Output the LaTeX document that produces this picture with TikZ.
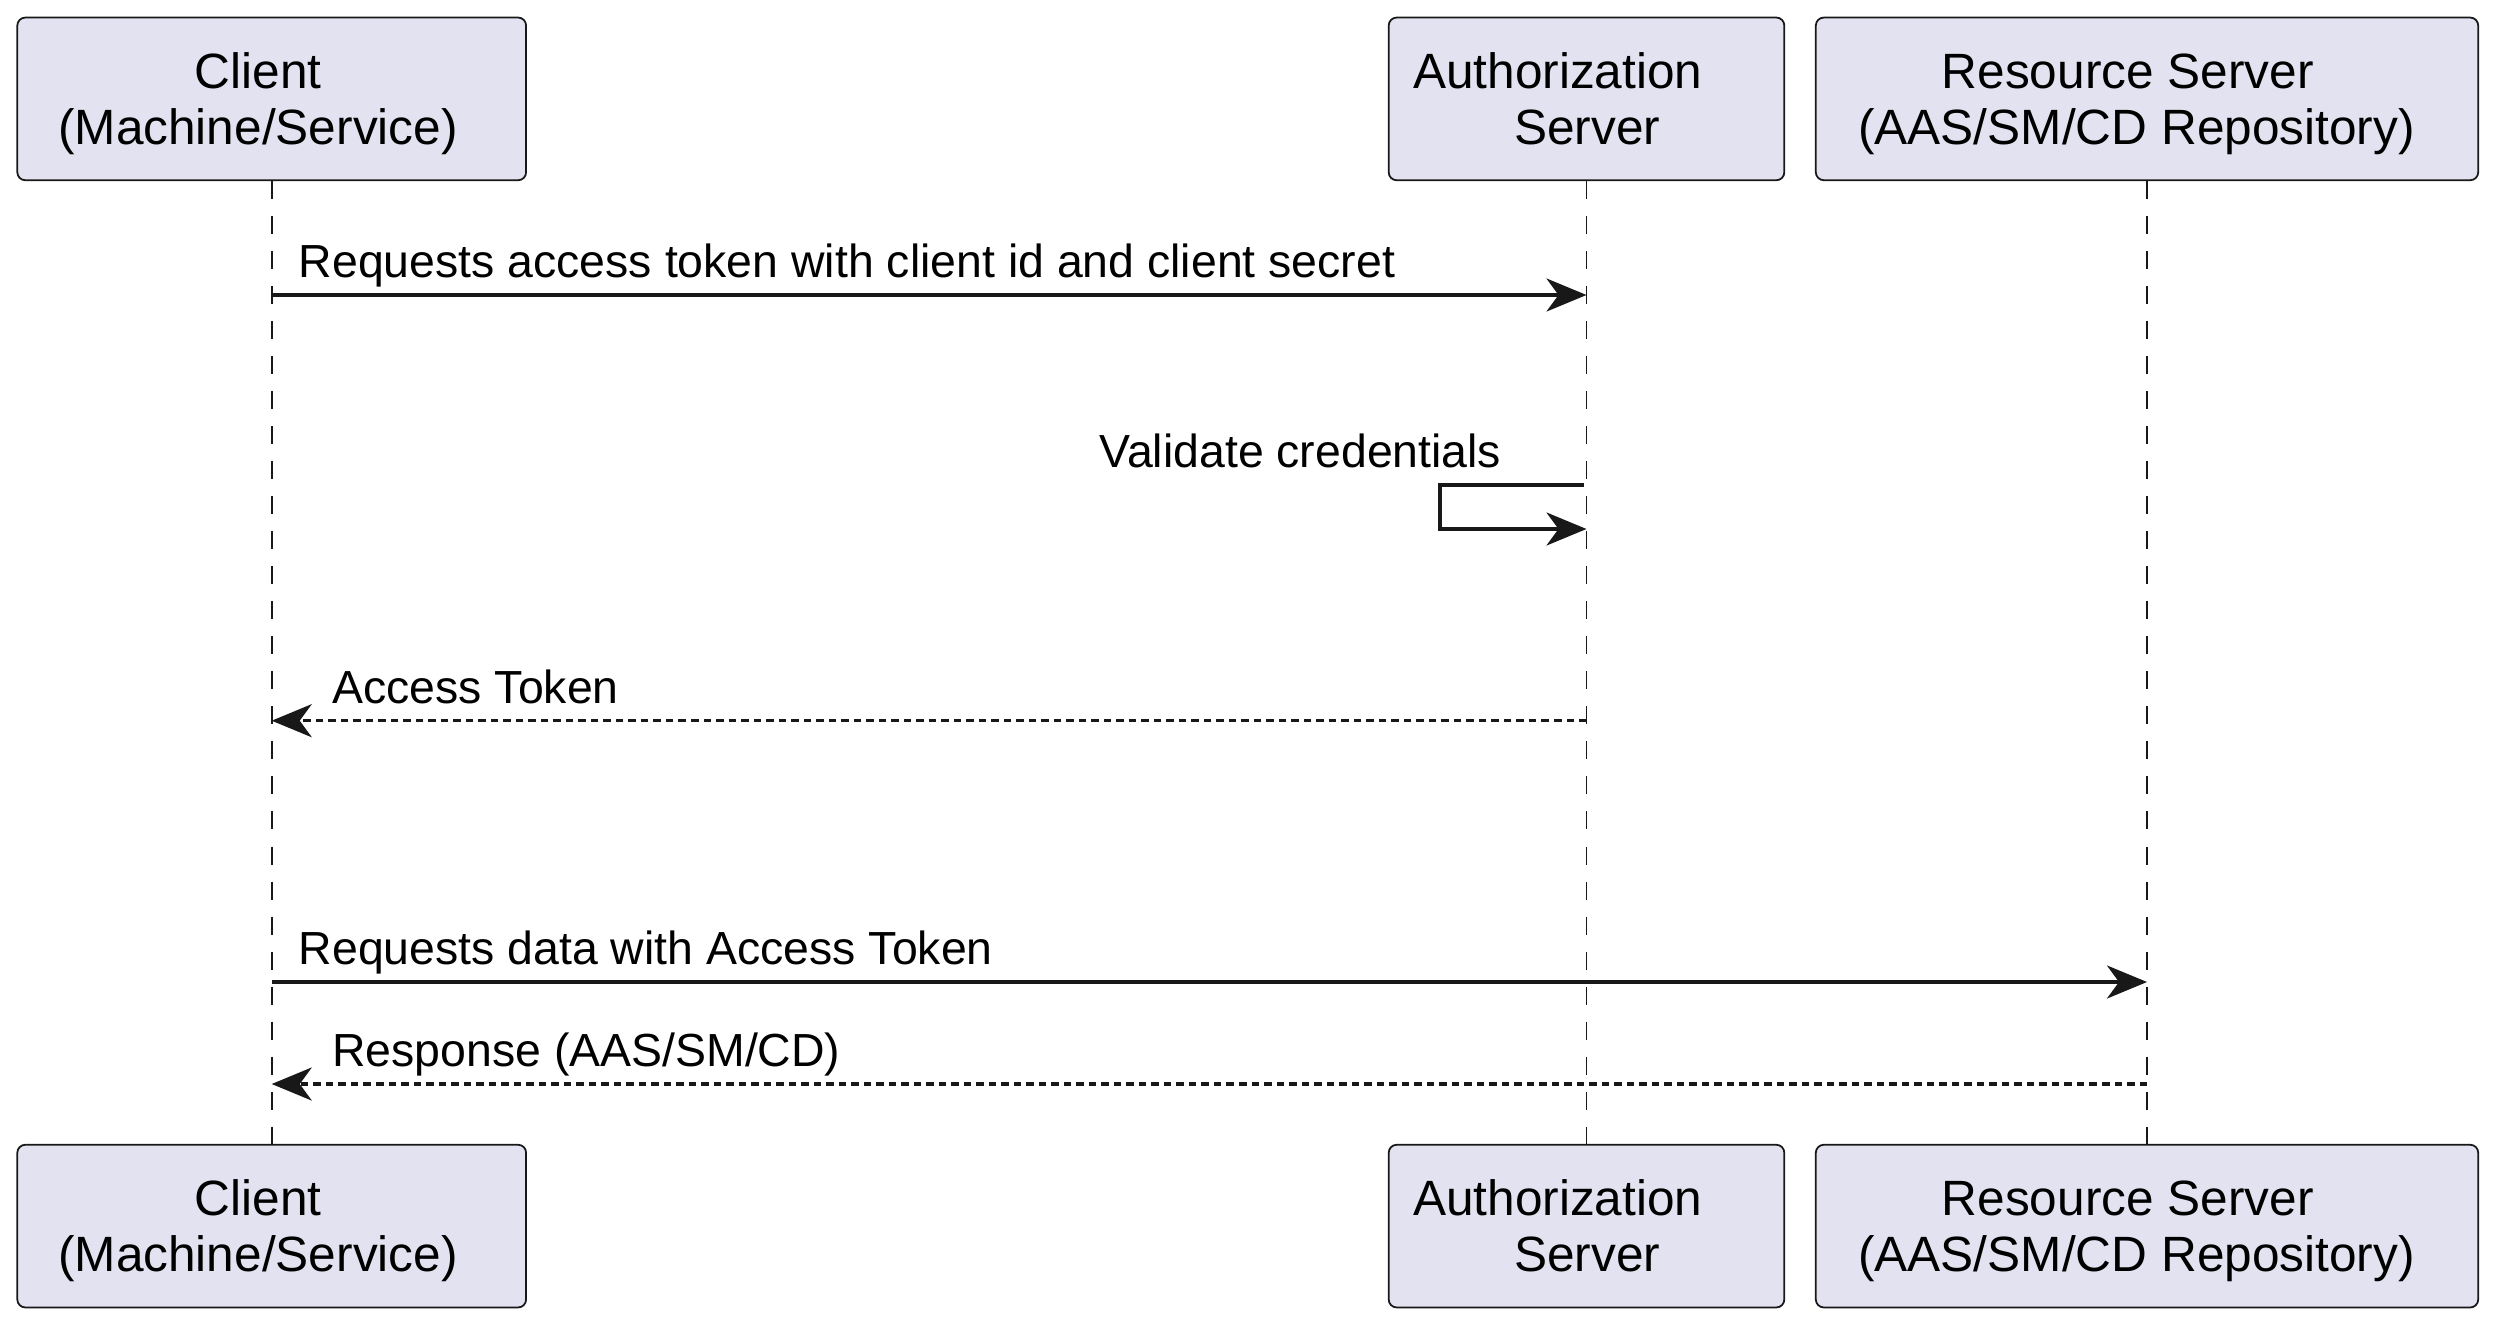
\documentclass[tikz,border=0pt]{standalone}
\usepackage{fontspec}
\setmainfont{Liberation Sans}
\usetikzlibrary{arrows.meta}
\definecolor{boxfill}{HTML}{E2E2F0}
\definecolor{ink}{HTML}{181818}
\begin{document}
\begin{tikzpicture}[x=0.01cm,y=-0.01cm,
  participant/.style={draw=ink, fill=boxfill, line width=0.5pt, rounded corners=0.08cm,
    minimum height=1.626cm, inner sep=0pt},
  boxtext/.style={anchor=base, font=\fontsize{14.1}{17}\selectfont, text=black, inner sep=0pt},
  lifeline/.style={draw=ink, line width=0.55pt, dash pattern=on 0.18cm off 0.17cm},
  msg/.style={draw=ink, line width=0.95pt, -{Stealth[length=0.4cm,width=0.33cm,inset=0.12cm]}},
  reply/.style={msg, dash pattern=on 0.075cm off 0.05cm},
  msglabel/.style={anchor=base west, font=\fontsize{13.2}{16}\selectfont, text=black, inner sep=0pt}
]
\useasboundingbox (0,0) rectangle (2500,1327);

% top participants
\node[participant, minimum width=5.085cm] (cT) at (271.7,98.9) {};
\node[participant, minimum width=3.954cm] (aT) at (1586.5,98.9) {};
\node[participant, minimum width=6.62cm] (rT) at (2147,98.9) {};
% bottom participants
\node[participant, minimum width=5.085cm] (cB) at (271.7,1226.1) {};
\node[participant, minimum width=3.954cm] (aB) at (1586.5,1226.1) {};
\node[participant, minimum width=6.62cm] (rB) at (2147,1226.1) {};

% texts in boxes
\node[boxtext] (cT1) at (258,88.5) {Client};
\node[boxtext] (cT2) at (258,144.3) {(Machine/Service)};
\node[boxtext] (aT1) at (1557.7,88.5) {Authorization};
\node[boxtext] (aT2) at (1587.2,144.3) {Server};
\node[boxtext] (rT1) at (2127.7,88.5) {Resource Server};
\node[boxtext] (rT2) at (2136.5,144.3) {(AAS/SM/CD Repository)};

\node[boxtext] (cB1) at (258,1215.8) {Client};
\node[boxtext] (cB2) at (258,1271.6) {(Machine/Service)};
\node[boxtext] (aB1) at (1557.7,1215.8) {Authorization};
\node[boxtext] (aB2) at (1587.2,1271.6) {Server};
\node[boxtext] (rB1) at (2127.7,1215.8) {Resource Server};
\node[boxtext] (rB2) at (2136.5,1271.6) {(AAS/SM/CD Repository)};

% lifelines
\draw[lifeline] (cT.south) -- (cB.north);
\draw[lifeline] (aT.south) -- (aB.north);
\draw[lifeline] (rT.south) -- (rB.north);

% message points
\coordinate (m1c) at (271.7,295);
\coordinate (m1a) at (1586.5,295);
\coordinate (s1a) at (1584,485);
\coordinate (s1b) at (1586.5,529);
\coordinate (m2a) at (1586.5,720.7);
\coordinate (m2c) at (271.7,720.7);
\coordinate (m3c) at (271.7,982);
\coordinate (m3r) at (2147,982);
\coordinate (m4r) at (2147,1084);
\coordinate (m4c) at (271.7,1084);

% messages
\draw[msg] (m1c) -- (m1a);
\node[msglabel] (l1) at (298,277) {Requests access token with client id and client secret};

\draw[msg] (s1a) -- (1440,485) -- (1440,529) -- (s1b);
\node[msglabel, anchor=base east] (l2) at (1502,467) {Validate credentials};

\draw[reply] (m2a) -- (m2c);
\node[msglabel] (l3) at (331.6,703) {Access Token};

\draw[msg] (m3c) -- (m3r);
\node[msglabel] (l4) at (298,964) {Requests data with Access Token};

\draw[reply] (m4r) -- (m4c);
\node[msglabel] (l5) at (331.6,1066) {Response (AAS/SM/CD)};
\end{tikzpicture}
\end{document}
